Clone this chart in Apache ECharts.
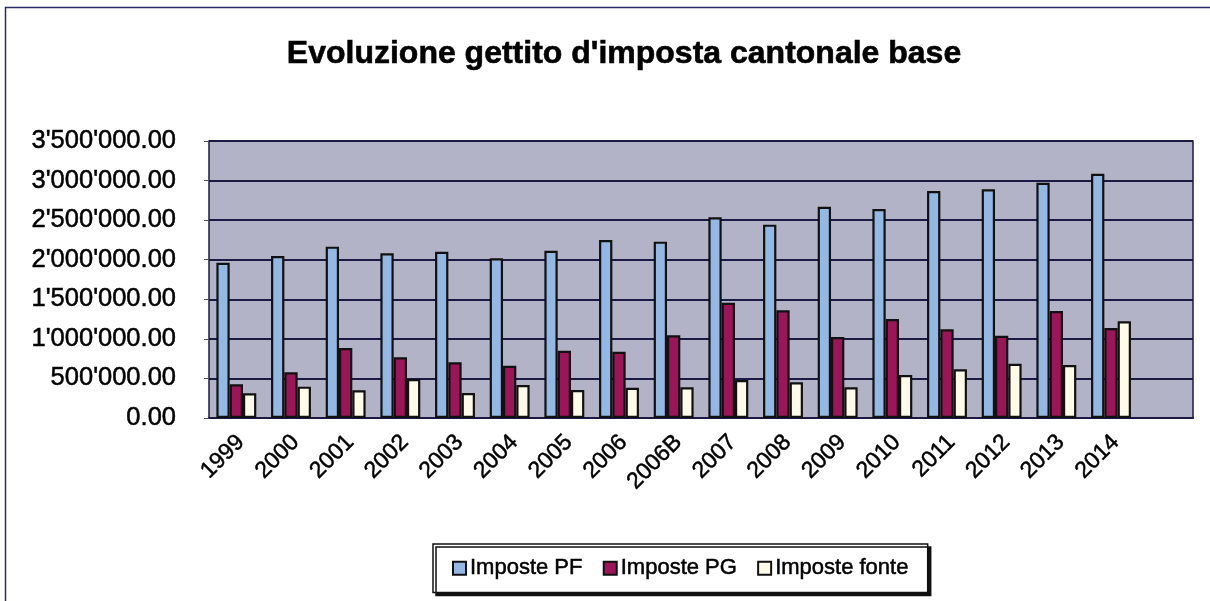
<!DOCTYPE html>
<html>
<head>
<meta charset="utf-8">
<script src="https://cdn.jsdelivr.net/npm/echarts@6/dist/echarts.min.js"></script>
<style>
html,body{margin:0;padding:0;background:#fff;}
#chart{width:1210px;height:601px;}
</style>
</head>
<body>
<div id="chart"></div>
<script>
// Categories (last one is an empty slot, as in the original chart)
var categories = ['1999','2000','2001','2002','2003','2004','2005','2006','2006B','2007','2008','2009','2010','2011','2012','2013','2014',''];
var seriesNames = ['Imposte PF','Imposte PG','Imposte fonte'];
var impostePF = [1962000, 2047000, 2165000, 2081000, 2101000, 2018000, 2114000, 2249000, 2228000, 2536000, 2443000, 2670000, 2641000, 2868000, 2890000, 2973000, 3087000];
var impostePG = [426000, 577000, 884000, 767000, 704000, 661000, 850000, 838000, 1045000, 1457000, 1361000, 1023000, 1251000, 1121000, 1040000, 1352000, 1137000];
var imposteFonte = [312000, 396000, 350000, 493000, 316000, 417000, 354000, 383000, 388000, 480000, 451000, 388000, 543000, 615000, 686000, 670000, 1222000];
var yTicks = [0, 500000, 1000000, 1500000, 2000000, 2500000, 3000000, 3500000];

var FONT = "'Liberation Sans', Arial, Helvetica, sans-serif";

function fmt(v) {
  var s = Math.round(v).toString();
  var out = '';
  while (s.length > 3) {
    out = "'" + s.slice(-3) + out;
    s = s.slice(0, -3);
  }
  return s + out + '.00';
}

var chart = echarts.init(document.getElementById('chart'), null, {renderer: 'canvas'});
var colors = ['#94b8e4', '#9c1558', '#fffbe8'];
function barSeries(name, data, color) {
  return {
    name: name,
    type: 'bar',
    data: data,
    barGap: '0%',
    barCategoryGap: '27%',
    itemStyle: {color: color, borderColor: '#111', borderWidth: 2.2},
    emphasis: {disabled: true}
  };
}
chart.setOption({
  animation: false,
  backgroundColor: '#ffffff',
  graphic: [{
    type: 'rect',
    z: -10,
    silent: true,
    shape: {x: 5.5, y: 7.5, width: 1400, height: 800},
    style: {fill: 'none', stroke: '#2a2a66', lineWidth: 1.5}
  }],
  title: {
    text: "Evoluzione gettito d'imposta cantonale base",
    left: 619,
    textAlign: 'center',
    top: 33,
    textStyle: {fontFamily: FONT, fontSize: 32, fontWeight: 'bold', color: '#000',
      textBorderColor: '#000', textBorderWidth: 0.6}
  },
  legend: {
    data: seriesNames,
    left: 433,
    top: 544,
    orient: 'horizontal',
    icon: 'rect',
    itemWidth: 13,
    itemHeight: 13,
    itemGap: 20,
    padding: [13, 19, 13, 19],
    backgroundColor: '#ffffff',
    borderColor: '#111',
    borderWidth: 1.5,
    borderRadius: 0,
    shadowColor: '#111',
    shadowBlur: 0,
    shadowOffsetX: 3,
    shadowOffsetY: 3,
    textStyle: {fontFamily: FONT, fontSize: 22, color: '#000', padding: [0, 0, 0, -1],
      textBorderColor: '#000', textBorderWidth: 0.5}
  },
  grid: {
    left: 209,
    right: 17,
    top: 141,
    bottom: 183,
    show: true,
    backgroundColor: '#b3b3c7',
    borderColor: '#1a1a44',
    borderWidth: 1.5
  },
  xAxis: {
    type: 'category',
    data: categories,
    axisLine: {show: true, lineStyle: {color: '#1a1a44', width: 2}},
    axisTick: {show: false},
    axisLabel: {
      interval: 0,
      rotate: 45,
      margin: 16,
      verticalAlign: 'top',
      lineHeight: 13,
      fontFamily: FONT,
      fontSize: 23,
      color: '#000',
      textBorderColor: '#000',
      textBorderWidth: 0.5
    }
  },
  yAxis: {
    type: 'value',
    min: yTicks[0],
    max: yTicks[yTicks.length - 1],
    interval: yTicks[1] - yTicks[0],
    axisLine: {show: false},
    axisTick: {show: true, length: 5, lineStyle: {color: '#555', width: 1}},
    splitLine: {show: true, lineStyle: {color: '#1a1a44', width: 2}},
    axisLabel: {
      margin: 33,
      fontFamily: FONT,
      fontSize: 25.5,
      color: '#000',
      textBorderColor: '#000',
      textBorderWidth: 0.5,
      formatter: function (v) { return fmt(v); }
    }
  },
  series: [
    barSeries(seriesNames[0], impostePF, colors[0]),
    barSeries(seriesNames[1], impostePG, colors[1]),
    barSeries(seriesNames[2], imposteFonte, colors[2])
  ]
});
</script>
</body>
</html>
